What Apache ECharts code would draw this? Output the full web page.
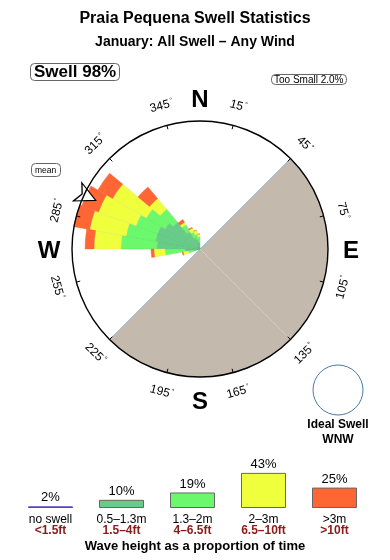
<!DOCTYPE html>
<html><head><meta charset="utf-8">
<script src="https://cdn.jsdelivr.net/npm/echarts@6/dist/echarts.min.js"></script>
<style>html,body{margin:0;padding:0;background:#fff}#c{width:390px;height:560px}</style>
</head><body><div id="c"></div>
<script>
const FONT = 'Liberation Sans, Arial, Helvetica, sans-serif';

// ---- swell rose data (radial length of each stacked band, per 10° direction bin) ----
const petalBins = [250, 260, 270, 280, 290, 300, 310, 320, 330, 340, 350];
const band05to13 = [6, 15, 43, 45, 45, 40, 35, 20, 12, 10, 6];   // 0.5–1.3m
const band13to2  = [6, 20, 36, 30, 23, 22, 17, 8, 6, 5, 6];      // 1.3–2m
const band2to3   = [5, 11, 27, 37, 40, 39, 14, 3, 4, 4, 3];      // 2–3m
const bandOver3  = [1, 3, 9, 18, 18, 17, 15, 3, 1, 0, 0];        // >3m
const ringMax = 128;

// land (shaded) half of the compass
const landSectors = ['0', '45', '90', '135', '180', '225', '270', '315'];
const landValues  = [0, 128, 128, 128, 128, 0, 0, 0];
const coastDirs = [45, 225];

// compass labels
const degreeLabels = ['15', '45', '75', '105', '135', '165', '195', '225', '255', '285', '315', '345'];
const compassLabels = ['N', 'E', 'S', 'W'];

// mean direction marker
const meanDir = 295;
const meanRadius = 115;

// legend (share of time per wave height)
const legendCats = ['no swell', '0.5–1.3m', '1.3–2m', '2–3m', '>3m'];
const legendFt   = ['<1.5ft', '1.5–4ft', '4–6.5ft', '6.5–10ft', '>10ft'];
const legendPct  = [2, 10, 19, 43, 25];
const bandColors = ['#5540c8', '#66cc88', '#6cf86c', '#f0ff3c', '#ff6633'];
const bandEdges  = ['#5540c8', '#5cb87c', '#60e060', '#e4e060', '#f06040'];

const dirCats = [];
for (let a = 0; a < 360; a += 10) dirCats.push(String(a));
function full(arr) {
  const out = new Array(36).fill(0);
  petalBins.forEach((b, i) => { out[b / 10] = arr[i]; });
  return out;
}

const C = [200, 249];
const chart = echarts.init(document.getElementById('c'), null, {renderer: 'canvas'});

const petalSeries = [band05to13, band13to2, band2to3, bandOver3].map((arr, k) => ({
  type: 'bar', coordinateSystem: 'polar', polarIndex: 0, stack: 'rose',
  data: full(arr), barCategoryGap: '0%', z: 3, silent: true,
  itemStyle: {color: bandColors[k + 1], borderColor: bandEdges[k + 1], borderWidth: 0.4}
}));

const option = {
  animation: false,
  textStyle: {fontFamily: FONT},
  title: [
    {text: 'Praia Pequena Swell Statistics', left: 'center', top: 11, padding: 0,
     textStyle: {fontFamily: FONT, fontSize: 16, fontWeight: 'bold', color: '#000'}},
    {text: 'January: All Swell – Any Wind', left: 'center', top: 35, padding: 0,
     textStyle: {fontFamily: FONT, fontSize: 14, fontWeight: 'bold', color: '#000'}},
    {text: 'Swell 98%', left: 30, top: 63, padding: [1, 4, 0, 4], borderColor: '#666', borderWidth: 1, borderRadius: 4,
     textStyle: {fontFamily: FONT, fontSize: 17, fontWeight: 'bold', color: '#000'}},
    {text: 'Too Small 2.0%', left: 271, top: 74, padding: [1, 3, 0, 3], borderColor: '#666', borderWidth: 1, borderRadius: 4,
     textStyle: {fontFamily: FONT, fontSize: 10, fontWeight: 'normal', color: '#000'}},
    {text: 'mean', left: 31, top: 163, padding: [3, 4, 2, 4], borderColor: '#666', borderWidth: 1, borderRadius: 4,
     textStyle: {fontFamily: FONT, fontSize: 8.5, fontWeight: 'normal', color: '#000'}},
    {text: 'Wave height as a proportion of time', left: 'center', top: 540, padding: 0,
     textStyle: {fontFamily: FONT, fontSize: 13, fontWeight: 'bold', color: '#000'}}
  ],
  polar: [
    {center: C, radius: [0, ringMax]},
    {center: C, radius: [0, ringMax]},
    {center: C, radius: [0, ringMax]},
    {center: C, radius: [0, ringMax]}
  ],
  angleAxis: [
    {polarIndex: 0, type: 'category', data: dirCats, startAngle: 90, clockwise: true, show: false},
    {polarIndex: 1, type: 'category', data: landSectors, startAngle: 90, clockwise: true, show: false},
    {polarIndex: 2, type: 'value', min: 0, max: 360, interval: 90, startAngle: 90, clockwise: true, show: false},
    {polarIndex: 3, type: 'category', data: degreeLabels, startAngle: 90, clockwise: true, z: 10,
     axisLine: {show: true, lineStyle: {color: '#000', width: 1.4}},
     axisTick: {show: true, inside: true, length: 4, alignWithLabel: true, lineStyle: {color: '#000', width: 1}},
     axisLabel: {show: false}, splitLine: {show: false}, splitArea: {show: false}}
  ],
  radiusAxis: [0, 1, 2, 3].map(i => ({polarIndex: i, type: 'value', min: 0, max: ringMax, show: false})),
  grid: {left: 15, right: 20, top: 459, height: 49},
  xAxis: {type: 'category', data: legendCats,
    axisLine: {show: false}, axisTick: {show: false},
    axisLabel: {margin: 6, interval: 0,
      formatter: (v, i) => '{a|' + v + '}\n{b|' + legendFt[i] + '}',
      rich: {
        a: {fontFamily: FONT, fontSize: 12, color: '#000', lineHeight: 11},
        b: {fontFamily: FONT, fontSize: 12, fontWeight: 'bold', color: '#8b1a1a', lineHeight: 12}
      }}},
  yAxis: {type: 'value', min: 0, max: 60, show: false},
  series: [
    {type: 'bar', coordinateSystem: 'polar', polarIndex: 1, data: landValues, barCategoryGap: '0%',
     z: 1, silent: true, itemStyle: {color: '#c4b9ad'}},
    {type: 'line', coordinateSystem: 'polar', polarIndex: 2,
     data: [[ringMax, coastDirs[0]], [0, 0], [ringMax, coastDirs[1]]],
     symbol: 'none', z: 2, silent: true, lineStyle: {color: '#9cc3e6', width: 1}},
    ...petalSeries,
    {type: 'scatter', coordinateSystem: 'polar', polarIndex: 2, data: [[meanRadius, meanDir]],
     symbol: 'arrow', symbolSize: [15, 20], symbolRotate: -(meanDir - 180), z: 6, silent: true,
     itemStyle: {color: '#fff', borderColor: '#000', borderWidth: 1.2, opacity: 1}},
    {type: 'pie', center: C, radius: [136, 154], startAngle: 90, clockwise: true, silent: true,
     data: degreeLabels.map(d => ({value: 1, name: d})),
     itemStyle: {color: 'rgba(0,0,0,0)'}, labelLine: {show: false},
     label: {show: true, position: 'inside', rotate: 'tangential', formatter: '{n|{b}}{d|°}',
       rich: {n: {fontFamily: FONT, fontSize: 12, color: '#000'},
              d: {fontFamily: FONT, fontSize: 7, color: '#000', padding: [0, 0, 6, 1]}}}},
    {type: 'pie', center: C, radius: [138, 158], startAngle: 135, clockwise: true, silent: true,
     data: compassLabels.map(d => ({value: 1, name: d})),
     itemStyle: {color: 'rgba(0,0,0,0)'}, labelLine: {show: false},
     label: {show: true, position: 'inside', rotate: 0, formatter: '{b}', offset: [0, 2],
       fontFamily: FONT, fontSize: 24, fontWeight: 'bold', color: '#000'}},
    {type: 'bar', data: legendPct.map((v, i) => ({value: v, itemStyle: {color: bandColors[i],
        borderColor: i === 0 ? bandColors[0] : '#666', borderWidth: 1}})),
     barWidth: 45, silent: true,
     label: {show: true, position: 'top', distance: 2, formatter: '{c}%',
       fontFamily: FONT, fontSize: 13, color: '#000'}}
  ],
  graphic: [
    {type: 'circle', shape: {cx: 338, cy: 390, r: 25}, style: {fill: '#fff', stroke: '#4a78a8', lineWidth: 1}},
    {type: 'text', x: 338, y: 419, style: {text: 'Ideal Swell', fontFamily: FONT, fontSize: 12, fontWeight: 'bold', fill: '#000', align: 'center'}},
    {type: 'text', x: 338, y: 434, style: {text: 'WNW', fontFamily: FONT, fontSize: 12, fontWeight: 'bold', fill: '#000', align: 'center'}}
  ]
};
chart.setOption(option);
</script></body></html>
